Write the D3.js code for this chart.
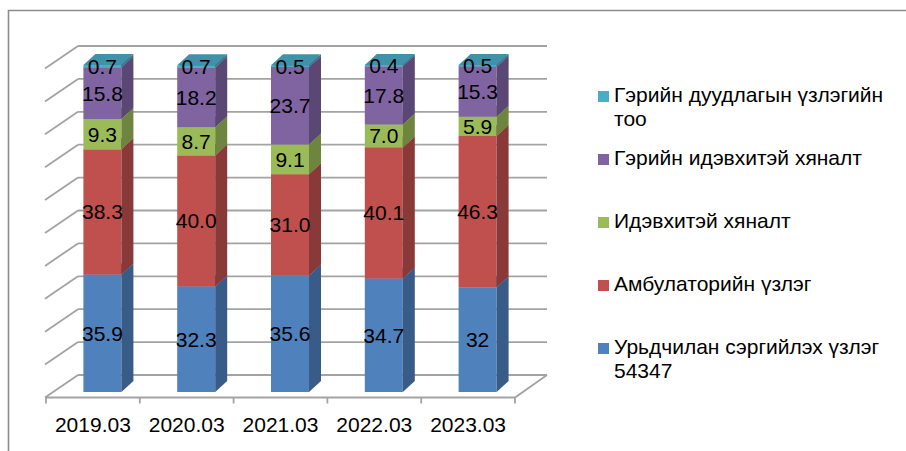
<!DOCTYPE html>
<html>
<head>
<meta charset="utf-8">
<script src="https://cdn.jsdelivr.net/npm/d3@7"></script>
<style>
  html, body { margin: 0; padding: 0; background: #fff; }
  svg { display: block; font-family: "Liberation Sans", Arial, sans-serif; }
</style>
</head>
<body>
<svg id="chart" width="906" height="451"></svg>
<script>
// ---- data ----
const categories = ["2019.03", "2020.03", "2021.03", "2022.03", "2023.03"];
const seriesNames = [
  "Урьдчилан сэргийлэх үзлэг\n54347",
  "Амбулаторийн үзлэг",
  "Идэвхитэй хяналт",
  "Гэрийн идэвхитэй хяналт",
  "Гэрийн дуудлагын үзлэгийн\nтоо"
];
const preventiveExam = ["35.9", "32.3", "35.6", "34.7", "32"];
const ambulatoryExam = ["38.3", "40.0", "31.0", "40.1", "46.3"];
const activeMonitoring = ["9.3", "8.7", "9.1", "7.0", "5.9"];
const homeActiveMonitoring = ["15.8", "18.2", "23.7", "17.8", "15.3"];
const homeCallExam = ["0.7", "0.7", "0.5", "0.4", "0.5"];
const seriesValues = [preventiveExam, ambulatoryExam, activeMonitoring, homeActiveMonitoring, homeCallExam];
const seriesColors = ["#4F81BD", "#C0504D", "#9BBB59", "#8064A2", "#4BACC6"];
const gridTicks = d3.range(0, 101, 10);

// ---- layout ----
const svg = d3.select("#chart");
const floorFrontY = 397.5, depthDX = 32, depthDY = 22.5;
const x = d3.scaleBand().domain(categories).range([46, 515]).padding(0);
const yBack = d3.scaleLinear().domain([0, 100]).range([375, 46]);
const yBar = d3.scaleLinear().domain([0, 100]).range([392, 65]);
const barW = 38, barShift = 9.5, barDX = 12, barDY = 11;

// outer frame (only top and left visible)
svg.append("path")
  .attr("d", "M8.5,451 L8.5,10.5 L906,10.5")
  .attr("fill", "none").attr("stroke", "#8c8c8c").attr("stroke-width", 1.6);

const grid = svg.append("g").attr("stroke", "#a3a3a3").attr("stroke-width", 1.8).attr("fill", "none");
const x0 = x.range()[0], x1 = x.range()[1];
// back wall gridlines
grid.selectAll("line.back").data(gridTicks).join("line")
  .attr("x1", x0 + depthDX).attr("x2", x1 + depthDX)
  .attr("y1", d => yBack(d)).attr("y2", d => yBack(d));
// side wall diagonals
grid.selectAll("line.side").data(gridTicks).join("line")
  .attr("x1", x0 - 1).attr("y1", d => yBack(d) + depthDY)
  .attr("x2", x0 + depthDX).attr("y2", d => yBack(d));
// floor front and right edges
grid.append("path")
  .attr("d", `M${x0},${floorFrontY} L${x1},${floorFrontY} L${x1 + depthDX},${yBack(0)}`);
// tick marks on category axis
grid.selectAll("line.tick").data(d3.range(categories.length + 1)).join("line")
  .attr("x1", i => x0 + i * x.bandwidth()).attr("x2", i => x0 + i * x.bandwidth())
  .attr("y1", floorFrontY).attr("y2", floorFrontY + 6);

// category labels
svg.append("g").selectAll("text").data(categories).join("text")
  .attr("x", d => x(d) + x.bandwidth() / 2)
  .attr("y", 431.5)
  .attr("text-anchor", "middle")
  .attr("font-size", 21)
  .attr("fill", "#000")
  .text(d => d);

// stacked 3D bars
const bars = svg.append("g");
categories.forEach((cat, ci) => {
  const bx = x(cat) + x.bandwidth() / 2 + barShift - barW / 2;
  let base = 0;
  seriesValues.forEach((vals, si) => {
    const v = +vals[ci];
    const top = base + v;
    const yb = yBar(base), yt = yBar(top);
    const col = d3.color(seriesColors[si]);
    const g = bars.append("g");
    // front face
    g.append("rect").attr("x", bx).attr("y", yt).attr("width", barW).attr("height", yb - yt)
      .attr("fill", col.formatHex());
    // side face
    g.append("path")
      .attr("d", `M${bx + barW},${yb} L${bx + barW + barDX},${yb - barDY} L${bx + barW + barDX},${yt - barDY} L${bx + barW},${yt} Z`)
      .attr("fill", col.darker(0.95).formatHex());
    // top face
    g.append("path")
      .attr("d", `M${bx},${yt} L${bx + barW},${yt} L${bx + barW + barDX},${yt - barDY} L${bx + barDX},${yt - barDY} Z`)
      .attr("fill", col.darker(0.45).formatHex());
    base = top;
  });
});

// data labels
const labels = svg.append("g").attr("font-size", 21).attr("fill", "#000").attr("text-anchor", "middle");
categories.forEach((cat, ci) => {
  const cx = x(cat) + x.bandwidth() / 2 + barShift;
  let base = 0;
  seriesValues.forEach((vals, si) => {
    const v = +vals[ci];
    const mid = base + v / 2;
    labels.append("text").attr("x", cx).attr("y", yBar(mid) + 7.5).text(vals[ci]);
    base += v;
  });
});

// legend (top to bottom = reverse stack order)
const legend = svg.append("g");
const legendOrder = d3.range(seriesNames.length).reverse();
legendOrder.forEach((si, i) => {
  const baseY = 102 + i * 63;
  legend.append("rect").attr("x", 598).attr("y", baseY - 11).attr("width", 11).attr("height", 11)
    .attr("fill", seriesColors[si]);
  const t = legend.append("text").attr("x", 614).attr("y", baseY).attr("font-size", 21).attr("fill", "#000");
  seriesNames[si].split("\n").forEach((line, li) => {
    t.append("tspan").attr("x", 614).attr("dy", li === 0 ? 0 : 24).text(line);
  });
});
</script>
</body>
</html>
